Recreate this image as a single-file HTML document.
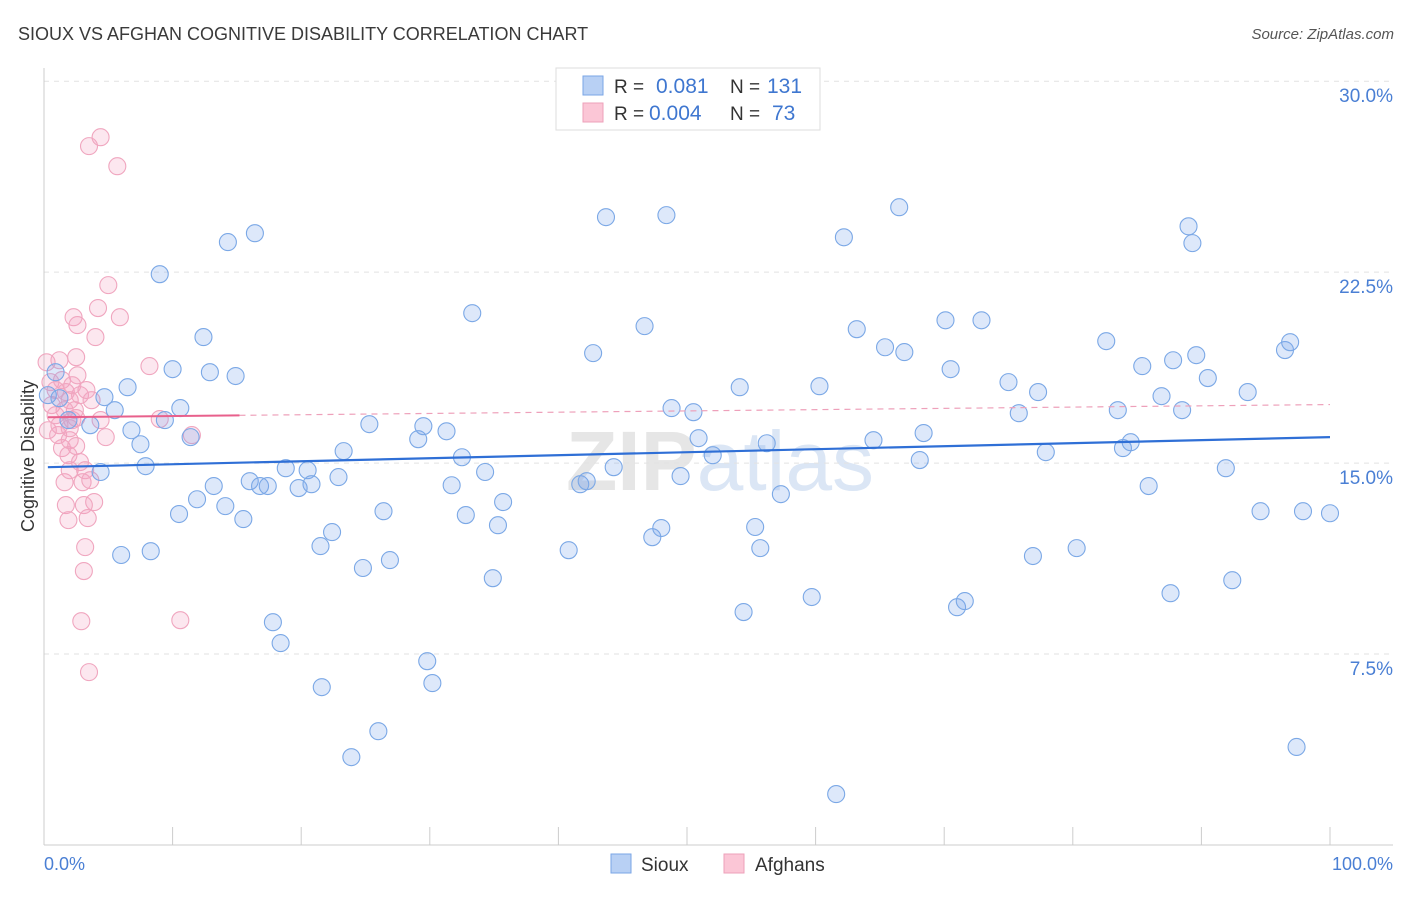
<!DOCTYPE html>
<html><head><meta charset="utf-8"><style>
body{margin:0;background:#fff;font-family:"Liberation Sans",sans-serif;}
svg text{font-family:"Liberation Sans",sans-serif;}
</style></head><body>
<svg id="chart" width="1406" height="892" viewBox="0 0 1406 892" xmlns="http://www.w3.org/2000/svg">
<text x="18" y="40" font-size="18" fill="#3a3a3a">SIOUX VS AFGHAN COGNITIVE DISABILITY CORRELATION CHART</text>
<text x="1394" y="39" font-size="15" fill="#555" text-anchor="end" font-style="italic">Source: ZipAtlas.com</text>
<text x="720" y="490" font-size="84" fill="#e6e6e6" text-anchor="middle" font-family="Liberation Serif" font-weight="bold">ZIP<tspan fill="#dbe6f5" font-family="Liberation Sans" font-weight="normal">atlas</tspan></text>
<g id="grid"></g>
<g id="axes"></g>
<g id="pink"></g>
<g id="blue"></g>
<g id="trends"></g>
<text transform="translate(34,456) rotate(-90)" font-size="18" fill="#333" text-anchor="middle">Cognitive Disability</text>
<g>
<rect x="556" y="68" width="264" height="62" fill="#fff" stroke="#ddd"/>
<rect x="583" y="76" width="20" height="19" fill="#b8d0f4" stroke="#7aa6e6"/>
<rect x="583" y="103" width="20" height="19" fill="#fbc6d6" stroke="#eea0ba"/>
<text x="614" y="93" font-size="19" fill="#333">R =</text>
<text x="656" y="93" font-size="21" fill="#3f77d0">0.081</text>
<text x="730" y="93" font-size="19" fill="#333">N =</text>
<text x="767" y="93" font-size="21" fill="#3f77d0">131</text>
<text x="614" y="120" font-size="19" fill="#333">R =</text>
<text x="649" y="120" font-size="21" fill="#3f77d0">0.004</text>
<text x="730" y="120" font-size="19" fill="#333">N =</text>
<text x="772" y="120" font-size="21" fill="#3f77d0">73</text>
</g>
<g>
<rect x="611" y="854" width="20" height="19" fill="#b8d0f4" stroke="#7aa6e6"/>
<text x="641" y="871" font-size="19" fill="#333">Sioux</text>
<rect x="724" y="854" width="20" height="19" fill="#fbc6d6" stroke="#eea0ba"/>
<text x="755" y="871" font-size="19" fill="#333">Afghans</text>
</g>
</svg>
<script>
const yTicks=[7.5,15,22.5,30];
const yTickLabels=["7.5%","15.0%","22.5%","30.0%"];
const xTickLabels=["0.0%","100.0%"];
const siouxX=[0.9,0.3,1.2,1.9,3.6,4.4,4.7,5.5,6.5,6.8,7.5,7.9,9.0,9.4,10.0,10.6,11.4,12.4,12.9,14.9,14.3,16.4,6.0,8.3,10.5,11.9,13.2,14.1,15.5,16.0,16.8,17.4,18.8,19.8,20.5,20.8,22.9,23.3,25.3,26.4,21.5,22.4,24.8,26.9,17.8,18.4,21.6,23.9,26.0,29.1,29.5,31.3,32.5,31.7,33.3,34.3,32.8,35.3,35.7,34.9,29.8,30.2,40.8,41.7,42.2,42.7,43.7,44.3,46.7,48.4,48.8,50.5,50.9,52.0,49.5,47.3,48.0,54.1,56.2,55.3,55.7,57.3,54.4,59.7,60.3,62.2,63.2,64.5,65.4,66.5,66.9,68.4,68.1,70.1,70.5,72.9,75.0,75.8,77.3,77.9,71.0,71.6,76.9,80.3,82.6,83.5,83.9,84.5,85.4,85.9,86.9,87.8,88.5,89.0,89.3,89.6,90.5,91.9,93.6,92.4,87.6,94.6,96.5,96.9,97.9,100.0,97.4,61.6];
const siouxY=[18.57,17.67,17.55,16.69,16.49,14.65,17.59,17.08,17.98,16.29,15.74,14.88,22.42,16.69,18.69,17.16,16.02,19.95,18.57,18.42,23.68,24.03,11.39,11.54,13.0,13.58,14.1,13.31,12.8,14.29,14.1,14.1,14.8,14.02,14.72,14.17,14.45,15.47,16.53,13.11,11.74,12.29,10.88,11.19,8.75,7.93,6.2,3.45,4.47,15.94,16.45,16.25,15.23,14.13,20.89,14.65,12.96,12.56,13.47,10.48,7.22,6.36,11.58,14.17,14.29,19.32,24.66,14.84,20.38,24.74,17.16,17.0,15.98,15.31,14.49,12.09,12.45,17.98,15.78,12.49,11.66,13.78,9.15,9.74,18.02,23.87,20.26,15.9,19.55,25.05,19.36,16.18,15.12,20.61,18.69,20.61,18.18,16.96,17.79,15.43,9.34,9.58,11.35,11.66,19.79,17.08,15.59,15.82,18.81,14.1,17.63,19.04,17.08,24.3,23.64,19.24,18.34,14.8,17.79,10.4,9.89,13.11,19.44,19.75,13.11,13.03,3.85,2.0];
const afghanX=[0.2,0.5,0.6,0.9,0.3,1.1,1.4,1.7,2.0,2.4,1.2,1.4,1.9,2.0,2.2,2.5,2.6,2.8,2.5,1.6,2.0,2.8,3.0,3.2,3.6,3.9,1.7,1.9,3.1,3.4,3.2,3.1,2.9,3.5,2.3,2.6,4.2,4.0,5.0,5.9,3.5,4.4,5.7,8.2,9.0,11.5,10.6,3.7,4.4,4.8,1.6,0.9,2.2,3.3,1.2,2.0,2.5];
const afghanY=[18.96,18.18,17.28,16.88,16.29,16.1,18.26,17.79,17.47,17.08,19.04,15.59,15.31,15.9,16.69,16.77,18.45,17.67,19.16,14.25,14.72,15.04,14.25,14.72,14.33,13.47,13.35,12.76,13.35,12.84,11.7,10.76,8.79,6.79,20.73,20.42,21.09,19.95,21.99,20.73,27.45,27.8,26.66,18.81,16.73,16.1,8.83,17.47,16.69,16.02,17.08,17.87,18.06,17.87,16.49,16.37,15.67];
const siouxTrend=[14.84,16.02];
const afghanTrend=[16.8,17.3];
const NS="http://www.w3.org/2000/svg";
const X=v=>44+v*12.86;
const Y=v=>845-v*25.46;
function mk(p,t,a){const e=document.createElementNS(NS,t);for(const k in a)e.setAttribute(k,a[k]);p.appendChild(e);return e;}
const grid=document.getElementById('grid'),axes=document.getElementById('axes');
yTicks.forEach((t,i)=>{
 const l=mk(grid,'line',{x1:44,x2:1393,y1:Y(t),y2:Y(t),stroke:'#e2e2e2','stroke-dasharray':'5,5'});
 
 
 const tx=mk(axes,'text',{x:1393,y:Y(t)+21,'font-size':19,fill:'#4a7fd4','text-anchor':'end'});
 tx.textContent=yTickLabels[i];
 
 
});
mk(axes,'line',{x1:44,x2:44,y1:68,y2:845,stroke:'#ccc'});
mk(axes,'line',{x1:44,x2:1393,y1:845,y2:845,stroke:'#ccc'});
for(let i=1;i<=10;i++){const l=mk(axes,'line',{x1:X(i*10),x2:X(i*10),y1:827,y2:845,stroke:'#ccc'});
 
 }
const x0=mk(axes,'text',{x:44,y:870,'font-size':18,fill:'#4a7fd4'});x0.textContent=xTickLabels[0];


const x1=mk(axes,'text',{x:1393,y:870,'font-size':18,fill:'#4a7fd4','text-anchor':'end'});x1.textContent=xTickLabels[1];


const pg=document.getElementById('pink');
afghanX.forEach((v,i)=>{const c=mk(pg,'circle',{cx:X(v),cy:Y(afghanY[i]),r:8.5,fill:'rgba(245,160,190,0.25)',stroke:'#f0a6bf','stroke-width':1.1});
 
 });
const bg=document.getElementById('blue');
siouxX.forEach((v,i)=>{const c=mk(bg,'circle',{cx:X(v),cy:Y(siouxY[i]),r:8.5,fill:'rgba(120,165,235,0.25)',stroke:'#7ba8e6','stroke-width':1.1});
 
 });
const tg=document.getElementById('trends');
const bl=mk(tg,'line',{x1:X(0.3),x2:X(100),y1:Y(siouxTrend[0]),y2:Y(siouxTrend[1]),stroke:'#2f6fd6','stroke-width':2.2});


const pyAt=x=>afghanTrend[0]+(afghanTrend[1]-afghanTrend[0])*x/100;
const ps=mk(tg,'line',{x1:X(0.3),x2:X(15.2),y1:Y(pyAt(0.3)),y2:Y(pyAt(15.2)),stroke:'#e8608c','stroke-width':2});


const pd=mk(tg,'line',{x1:X(15.2),x2:X(100),y1:Y(pyAt(15.2)),y2:Y(pyAt(100)),stroke:'#eea0ba','stroke-width':1.2,'stroke-dasharray':'6,5'});


</script>
</body></html>
